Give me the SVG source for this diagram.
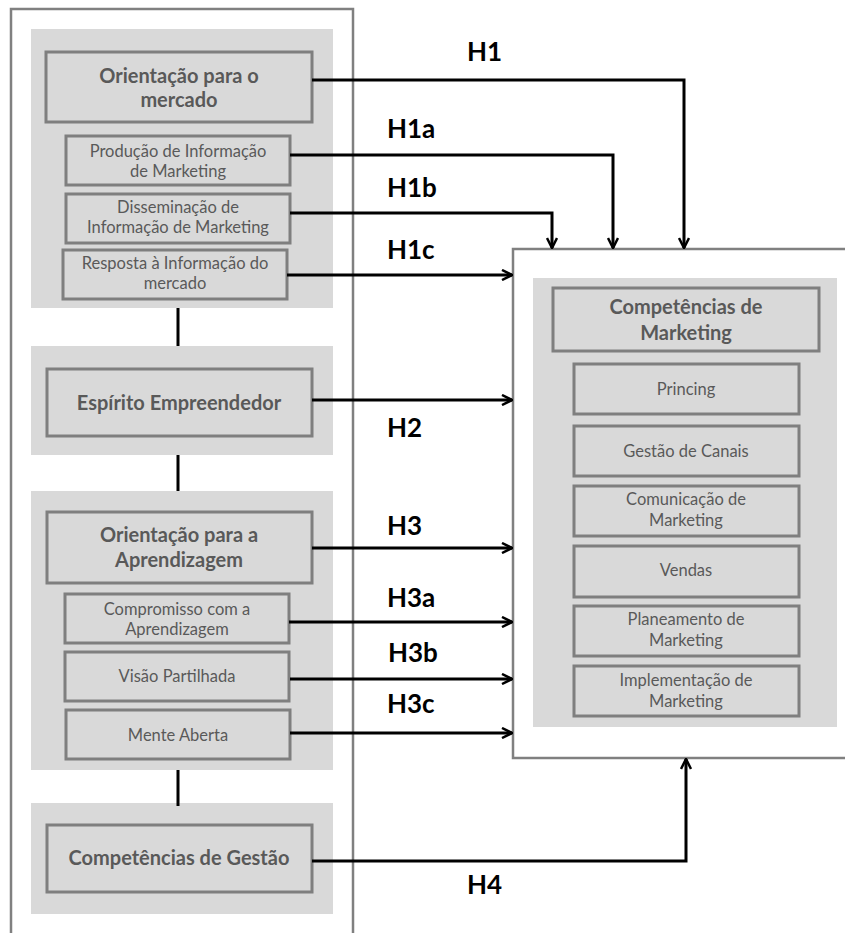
<svg xmlns="http://www.w3.org/2000/svg" width="845" height="933" viewBox="0 0 845 933">
<style>
.frame{fill:#ffffff;stroke:#808080;stroke-width:2.5}
.panel{fill:#d9d9d9;stroke:none}
.box{fill:#d9d9d9;stroke:#7f7f7f;stroke-width:3}
.t{font-family:Lato,"Liberation Sans",sans-serif;fill:#595959;text-anchor:middle}
.big{font-size:20px;font-weight:bold}
.sm{font-size:16.5px}
.lab{font-family:Lato,"Liberation Sans",sans-serif;font-weight:bold;font-size:26px;fill:#000}
.c{fill:none;stroke:#000;stroke-width:3}
</style>
<defs>
<marker id="ah" viewBox="0 0 12 12" refX="11" refY="6" markerWidth="12" markerHeight="12" markerUnits="userSpaceOnUse" orient="auto">
<path d="M1,1 L11,6 L1,11" fill="none" stroke="#000" stroke-width="2.5"/>
</marker>
</defs>
<rect id="left-frame" class="frame" x="11" y="9" width="342" height="940"/>
<rect id="right-frame" class="frame" x="513" y="249" width="345" height="509"/>
<g id="panels">
<rect class="panel" x="31" y="29" width="302" height="279"/>
<rect class="panel" x="31" y="346" width="302" height="109"/>
<rect class="panel" x="31" y="491" width="302" height="279"/>
<rect class="panel" x="31" y="803" width="302" height="111"/>
<rect class="panel" x="533" y="278" width="304" height="449"/>
</g>
<g id="n-orient-mercado"><rect class="box" x="46" y="52" width="266" height="70"/><text class="t big" x="179" y="83">Orientação para o</text><text class="t big" x="179" y="107">mercado</text></g>
<g id="n-producao"><rect class="box" x="66" y="136" width="224" height="49"/><text class="t sm" x="178" y="157">Produção de Informação</text><text class="t sm" x="178" y="177">de Marketing</text></g>
<g id="n-disseminacao"><rect class="box" x="66" y="194" width="224" height="49"/><text class="t sm" x="178" y="213">Disseminação de</text><text class="t sm" x="178" y="233">Informação de Marketing</text></g>
<g id="n-resposta"><rect class="box" x="63" y="250" width="224" height="49"/><text class="t sm" x="175" y="269">Resposta à Informação do</text><text class="t sm" x="175" y="289">mercado</text></g>
<g id="n-espirito"><rect class="box" x="47" y="369" width="265" height="67"/><text class="t big" x="179" y="410">Espírito Empreendedor</text></g>
<g id="n-orient-aprend"><rect class="box" x="47" y="512" width="265" height="71"/><text class="t big" x="179" y="542">Orientação para a</text><text class="t big" x="179" y="567">Aprendizagem</text></g>
<g id="n-compromisso"><rect class="box" x="65" y="594" width="224" height="49"/><text class="t sm" x="177" y="615">Compromisso com a</text><text class="t sm" x="177" y="635">Aprendizagem</text></g>
<g id="n-visao"><rect class="box" x="65" y="652" width="224" height="49"/><text class="t sm" x="177" y="682">Visão Partilhada</text></g>
<g id="n-mente"><rect class="box" x="66" y="710" width="224" height="49"/><text class="t sm" x="178" y="741">Mente Aberta</text></g>
<g id="n-gestao"><rect class="box" x="47" y="825" width="265" height="67"/><text class="t big" x="179" y="865">Competências de Gestão</text></g>
<g id="n-comp-mkt"><rect class="box" x="553" y="288" width="266" height="63"/><text class="t big" x="686" y="314">Competências de</text><text class="t big" x="686" y="340">Marketing</text></g>
<g id="n-princing"><rect class="box" x="574" y="364" width="225" height="50"/><text class="t sm" x="686" y="395">Princing</text></g>
<g id="n-canais"><rect class="box" x="574" y="426" width="225" height="50"/><text class="t sm" x="686" y="457">Gestão de Canais</text></g>
<g id="n-comunicacao"><rect class="box" x="574" y="486" width="225" height="50"/><text class="t sm" x="686" y="505">Comunicação de</text><text class="t sm" x="686" y="526">Marketing</text></g>
<g id="n-vendas"><rect class="box" x="574" y="546" width="225" height="51"/><text class="t sm" x="686" y="576">Vendas</text></g>
<g id="n-planeamento"><rect class="box" x="574" y="606" width="225" height="50"/><text class="t sm" x="686" y="625">Planeamento de</text><text class="t sm" x="686" y="646">Marketing</text></g>
<g id="n-implementacao"><rect class="box" x="574" y="666" width="225" height="50"/><text class="t sm" x="686" y="686">Implementação de</text><text class="t sm" x="686" y="707">Marketing</text></g>
<g id="connectors">
<path class="c" d="M178,308 V346 M178,455 V491 M178,770 V806"/>
<path class="c" d="M312,80 H684 V248" marker-end="url(#ah)"/>
<path class="c" d="M290,155 H613 V248" marker-end="url(#ah)"/>
<path class="c" d="M290,213 H552 V248" marker-end="url(#ah)"/>
<path class="c" d="M287,275 H512" marker-end="url(#ah)"/>
<path class="c" d="M312,400 H512" marker-end="url(#ah)"/>
<path class="c" d="M312,548 H512" marker-end="url(#ah)"/>
<path class="c" d="M289,622 H512" marker-end="url(#ah)"/>
<path class="c" d="M290,679 H512" marker-end="url(#ah)"/>
<path class="c" d="M290,733 H512" marker-end="url(#ah)"/>
<path class="c" d="M312,861 H686 V759" marker-end="url(#ah)"/>
</g>
<g id="labels">
<text class="lab" x="467" y="61">H1</text>
<text class="lab" x="387" y="138">H1a</text>
<text class="lab" x="387" y="197">H1b</text>
<text class="lab" x="387" y="259">H1c</text>
<text class="lab" x="387" y="437">H2</text>
<text class="lab" x="387" y="535">H3</text>
<text class="lab" x="387" y="607">H3a</text>
<text class="lab" x="388" y="662">H3b</text>
<text class="lab" x="387" y="713">H3c</text>
<text class="lab" x="467" y="894">H4</text>
</g>
</svg>
